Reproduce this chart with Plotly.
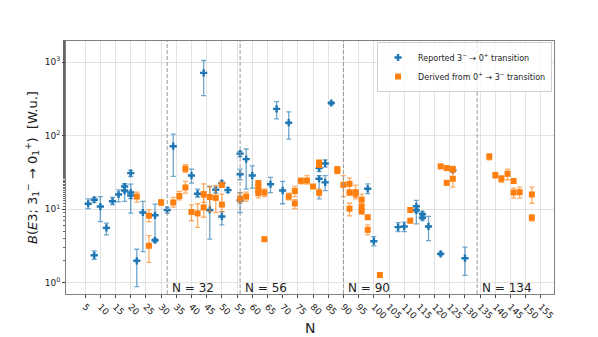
import plotly.graph_objects as go

# Reported 3- -> 0+ transitions (blue)
N_rep = [6, 8, 8, 10, 12, 14, 16, 18, 18, 20, 20, 20, 22, 24, 28, 28, 32, 34,
         40, 42, 44, 46, 48, 50, 50, 52, 56, 56, 56, 58, 60, 66, 68, 70, 72,
         82, 82, 84, 84, 86, 98, 100, 108, 110, 114, 114, 116, 116, 118, 122, 126, 130]
B_rep = [11.9, 13.5, 2.38, 10.9, 5.6, 12.9, 15.9, 20.4, 18.0, 16.9, 15.4, 31.0, 2.0, 9.05, 8.3, 3.8, 9.8, 72.0,
         28.8, 16.3, 713.0, 9.8, 18.4, 22.7, 8.0, 18.2, 57.0, 30.0, 13.2, 48.0, 28.8, 21.9, 231.0, 18.0, 150.0,
         36.3, 26.0, 42.0, 23.2, 278.0, 19.0, 3.69, 5.73, 5.85, 11.0, 9.7, 8.6, 7.7, 5.85, 2.48, 34.0, 2.17]
B_rep_hi = [13.9, 14.5, 2.72, 14.9, 6.5, 14.5, 18.4, 22.4, 22.0, 22.0, 17.0, 33.7, 2.87, 12.8, 11.8, 4.0, 10.7, 105.0,
            35.2, 18.8, 1050.0, 20.4, 20.0, 24.4, 9.3, 19.5, 61.0, 35.2, 16.9, 66.0, 39.0, 27.1, 290.0, 23.9, 210.0,
            40.5, 28.6, 47.0, 28.6, 290.0, 22.2, 4.26, 6.6, 6.7, 13.2, 10.2, 9.2, 8.2, 8.0, 2.6, 36.0, 3.06]
B_rep_lo = [10.2, 12.5, 2.1, 6.8, 4.5, 11.6, 12.6, 17.3, 12.8, 8.9, 14.0, 27.9, 0.89, 2.67, 3.7, 3.6, 8.9, 28.0,
            22.7, 14.7, 350.0, 3.93, 16.6, 20.4, 6.15, 17.0, 52.0, 25.2, 9.05, 18.8, 19.4, 16.9, 169.0, 11.9, 90.0,
            32.6, 13.9, 37.5, 18.0, 265.0, 16.3, 3.19, 5.0, 5.0, 6.35, 9.2, 8.0, 7.2, 3.76, 2.35, 32.0, 1.27]

# Derived from 0+ -> 3- transitions (orange)
N_der = [22, 26, 26, 30, 34, 36, 38, 38, 40, 42, 44, 44, 46, 48, 50, 50, 56, 58,
         62, 62, 62, 62, 64, 64, 72, 74, 74, 76, 78, 80, 82, 82, 82, 88, 88,
         90, 92, 92, 92, 94, 94, 96, 96, 96, 98, 98, 102, 112, 112, 122, 124, 124,
         126, 126, 138, 140, 142, 144, 146, 146, 148, 152, 152]
B_der = [14.9, 8.2, 3.2, 12.4, 12.4, 15.2, 35.6, 19.8, 9.2, 8.8, 16.1, 10.6, 14.7, 14.3, 21.5, 11.6, 14.0, 14.9,
         22.7, 20.4, 18.4, 16.6, 3.93, 16.9, 14.9, 17.7, 12.0, 24.4, 24.6, 20.4, 43.3, 40.0, 16.9, 35.2, 33.0,
         21.5, 22.2, 16.9, 10.2, 17.1, 16.3, 13.5, 10.9, 9.4, 7.8, 5.26, 1.28, 9.8, 7.0, 38.3, 36.3, 22.9,
         35.2, 26.0, 51.8, 29.2, 26.0, 30.4, 24.2, 16.9, 17.1, 15.9, 7.7]
B_der_hi = [17.1, 9.8, 4.4, 13.5, 14.5, 17.5, 40.3, 23.9, 11.5, 11.9, 22.2, 14.5, 20.4, 21.1, 23.0, 16.1, 16.6, 17.1,
            24.5, 22.5, 20.0, 18.0, 4.15, 18.8, 16.6, 20.4, 13.5, 26.5, 28.6, 21.5, 45.6, 42.0, 18.8, 37.0, 34.5,
            28.6, 26.5, 18.0, 12.1, 21.3, 18.0, 16.1, 11.8, 10.2, 8.3, 6.15, 1.36, 10.4, 7.5, 40.5, 38.5, 24.5,
            38.3, 32.6, 57.0, 31.7, 28.6, 35.2, 26.0, 19.4, 20.0, 20.0, 8.4]
B_der_lo = [12.5, 6.8, 1.9, 11.3, 10.7, 13.5, 31.7, 16.6, 7.0, 5.7, 12.4, 7.8, 9.3, 9.05, 20.0, 9.3, 12.1, 12.9,
            21.0, 18.5, 16.5, 14.3, 3.72, 14.9, 13.5, 14.9, 10.2, 22.2, 22.0, 19.4, 41.5, 38.0, 15.2, 33.5, 31.5,
            14.9, 18.4, 15.5, 8.15, 13.9, 14.5, 11.5, 10.0, 8.6, 7.3, 4.5, 1.2, 9.2, 6.6, 36.3, 34.3, 21.5,
            31.7, 20.0, 47.0, 26.5, 23.2, 25.2, 22.5, 14.2, 14.2, 12.1, 7.0]

shell_N = [32, 56, 90, 134]
shell_labels = ["N = 32", "N = 56", "N = 90", "N = 134"]
x_ticks = list(range(5, 156, 5))
y_ticks = [1, 10, 100, 1000]
y_tick_text = ["10<sup>0</sup>", "10<sup>1</sup>", "10<sup>2</sup>", "10<sup>3</sup>"]

BLUE = "#1f77b4"
ORANGE = "#ff7f0e"

fig = go.Figure()
fig.add_trace(go.Scatter(
    x=N_rep, y=B_rep, mode="markers",
    name="Reported 3<sup>−</sup> → 0<sup>+</sup> transition",
    marker=dict(symbol="cross", size=6, color=BLUE),
    error_y=dict(type="data", symmetric=False,
                 array=[h - v for h, v in zip(B_rep_hi, B_rep)],
                 arrayminus=[v - l for l, v in zip(B_rep_lo, B_rep)],
                 color="rgba(31,119,180,0.65)", thickness=1.3, width=2.5),
))
fig.add_trace(go.Scatter(
    x=N_der, y=B_der, mode="markers",
    name="Derived from 0<sup>+</sup> → 3<sup>−</sup> transition",
    marker=dict(symbol="square", size=6, color=ORANGE),
    error_y=dict(type="data", symmetric=False,
                 array=[h - v for h, v in zip(B_der_hi, B_der)],
                 arrayminus=[v - l for l, v in zip(B_der_lo, B_der)],
                 color="rgba(255,127,14,0.65)", thickness=1.3, width=2.5),
))

for n, lab in zip(shell_N, shell_labels):
    fig.add_vline(x=n, line=dict(color="#999999", width=1, dash="4px,2px"))
    fig.add_annotation(x=n + 0.8, y=-0.065, xref="x", yref="y", text=lab,
                       showarrow=False, xanchor="left", yanchor="middle",
                       font=dict(size=12, color="#222"))

# x-axis title placed as an annotation for exact positioning
fig.add_annotation(x=0.5, y=-0.134, xref="paper", yref="paper", text="N",
                   showarrow=False, xanchor="center", yanchor="middle",
                   font=dict(size=14, color="#222"))

fig.update_layout(
    width=598, height=337,
    margin=dict(l=58, r=52, t=33, b=51),
    paper_bgcolor="white", plot_bgcolor="white",
    font=dict(family="DejaVu Sans", color="#222"),
    showlegend=True,
    legend=dict(x=0.996, y=0.996, xanchor="right", yanchor="top",
                bgcolor="rgba(255,255,255,0.8)", bordercolor="#d0d0d0", borderwidth=1,
                font=dict(size=8), tracegroupgap=0),
)
fig.update_xaxes(
    automargin=False,
    range=[-1.3, 159.3], tickvals=x_ticks, ticktext=[str(t) for t in x_ticks],
    tickangle=45, tickfont=dict(size=9), ticks="outside", ticklen=3, tickcolor="#444",
    showgrid=True, gridcolor="rgba(200,200,200,0.5)", gridwidth=1,
    showline=True, linecolor="#808080", mirror=True, zeroline=False,
)
fig.update_yaxes(
    automargin=False,
    type="log", range=[-0.15, 3.286], tickvals=y_ticks, ticktext=y_tick_text,
    tickfont=dict(size=9), ticks="outside", ticklen=3, tickcolor="#444",
    showgrid=True, gridcolor="rgba(200,200,200,0.5)", gridwidth=1,
    showline=True, linecolor="#808080", mirror=True, zeroline=False,
    minor=dict(ticks="outside", ticklen=2, tickcolor="#666", showgrid=False),
    title=dict(text="<i>B</i>(<i>E</i>3; 3<sub>1</sub><sup>−</sup> → 0<sub>1</sub><sup>+</sup>)  [W.u.]",
               font=dict(size=13), standoff=4),
)

fig.write_html("out.html")
